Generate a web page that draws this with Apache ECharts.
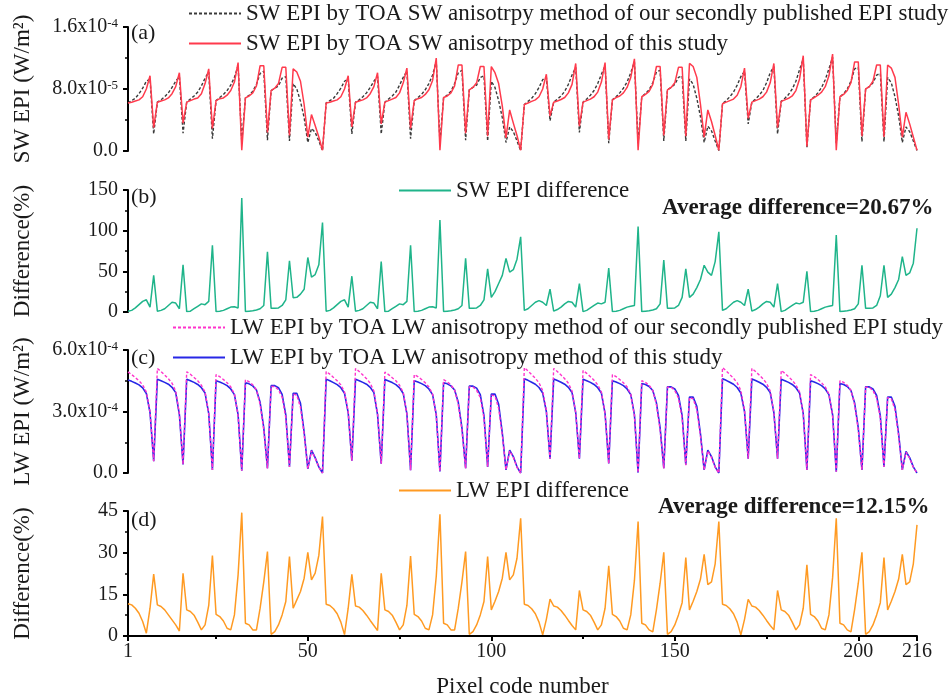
<!DOCTYPE html>
<html>
<head>
<meta charset="utf-8">
<script src="https://cdn.jsdelivr.net/npm/echarts@6/dist/echarts.min.js"></script>
<style>
  html, body { margin: 0; padding: 0; background: #fff; }
  #chart { width: 949px; height: 699px; }
</style>
</head>
<body>
<div id="chart"></div>
<script>
// Pixel code numbers along the shared x axis
const pixelCodes = Array.from({ length: 216 }, (_, i) => i + 1);
const xMajorTicks = [1, 50, 100, 150, 200, 216];
const xMinorTicks = [25, 75, 125, 175];

// SW EPI, units of 1e-5 W/m2 (previous EPI study)
const swPrev = [
  6.2, 6.5, 6.8, 7.4, 8.1, 9.0, 9.3, 2.2,  6.3, 6.6, 7.0, 7.5, 8.2, 9.0, 9.6, 2.3,  6.3, 6.7, 7.1, 7.6, 8.4, 9.4, 10.2, 1.6,  6.5, 6.9, 7.3, 7.8, 8.5, 9.5, 11.0, 1.2,  6.85, 7.2, 7.7, 8.6, 10.0, 10.3, 1.4,  7.8, 8.1, 8.4, 9.4, 9.6, 1.3,  8.7, 8.0, 6.4, 4.3, 1.1,  2.9, 2.4, 1.3, 0.05,
  6.2, 6.5, 6.8, 7.4, 8.1, 9.0, 9.3, 2.2,  6.3, 6.6, 7.0, 7.5, 8.2, 9.0, 9.6, 2.2,  6.3, 6.7, 7.1, 7.6, 8.5, 9.5, 10.3, 1.6,  6.5, 6.9, 7.3, 7.9, 8.7, 9.8, 11.6, 1.1,  6.9, 7.2, 7.7, 8.7, 10.1, 10.4, 1.4,  7.9, 8.2, 8.5, 9.5, 9.7, 1.3,  9.0, 8.2, 6.5, 4.3, 1.1,  3.1, 2.5, 1.3, 0.05,
  6.0, 6.4, 6.8, 7.4, 8.2, 9.2, 9.5, 3.9,  6.3, 6.7, 7.1, 7.7, 8.6, 9.8, 10.8, 2.4,  6.3, 6.7, 7.2, 7.8, 8.7, 9.9, 11.0, 1.0,  6.6, 7.0, 7.5, 8.1, 8.9, 10.1, 11.5, 1.0,  7.0, 7.4, 7.9, 8.8, 10.2, 10.4, 1.3,  7.9, 8.2, 8.6, 9.5, 9.7, 1.3,  9.3, 8.6, 6.8, 4.4, 1.1,  3.2, 2.6, 1.3, 0.05,
  6.1, 6.5, 7.0, 7.6, 8.5, 9.6, 10.3, 3.5,  6.3, 6.7, 7.2, 7.8, 8.8, 10.1, 10.9, 2.2,  6.4, 6.8, 7.3, 8.0, 9.0, 10.5, 11.9, 0.4,  6.6, 7.0, 7.5, 8.2, 9.2, 10.6, 12.1, 1.0,  7.0, 7.4, 8.0, 9.0, 10.6, 10.8, 1.2,  8.0, 8.3, 8.8, 9.8, 10.0, 1.2,  9.5, 8.8, 7.0, 4.5, 1.1,  3.1, 2.5, 1.3, 0.05
];

// SW EPI, units of 1e-5 W/m2 (this study)
const swThis = [
  6.2, 6.3, 6.45, 6.6, 7.0, 8.0, 9.7, 3.0,  6.3, 6.45, 6.6, 6.85, 7.4, 8.3, 10.1, 3.6,  6.3, 6.5, 6.7, 6.85, 7.4, 8.7, 10.6, 2.9,  6.5, 6.75, 6.85, 7.2, 7.8, 8.9, 11.4, 0.1,  6.85, 7.1, 7.5, 8.4, 11.0, 11.0, 2.4,  7.8, 8.1, 8.7, 10.8, 10.8, 2.0,  10.6, 10.2, 9.0, 6.0, 1.8,  4.7, 3.3, 1.8, 0.1,
  6.2, 6.3, 6.45, 6.6, 7.0, 8.0, 9.7, 3.1,  6.3, 6.45, 6.6, 6.85, 7.4, 8.3, 10.1, 3.5,  6.3, 6.5, 6.7, 6.9, 7.5, 8.8, 10.7, 2.9,  6.5, 6.75, 6.9, 7.3, 7.9, 9.1, 12.0, 0.1,  6.9, 7.1, 7.5, 8.4, 11.1, 11.1, 2.3,  7.9, 8.2, 8.8, 10.9, 10.9, 1.9,  10.9, 10.1, 8.7, 5.8, 1.7,  5.3, 3.6, 2.0, 0.1,
  6.0, 6.2, 6.4, 6.6, 7.0, 8.0, 9.9, 4.5,  6.3, 6.45, 6.65, 6.9, 7.5, 8.6, 11.3, 3.2,  6.3, 6.5, 6.7, 7.0, 7.6, 8.9, 11.4, 1.5,  6.6, 6.9, 7.1, 7.5, 8.2, 9.5, 11.9, 0.1,  7.0, 7.3, 7.7, 8.6, 10.9, 10.9, 2.0,  7.9, 8.2, 8.8, 10.8, 10.8, 1.9,  11.3, 10.9, 9.5, 6.0, 1.8,  5.3, 3.8, 2.0, 0.1,
  6.1, 6.3, 6.5, 6.7, 7.2, 8.3, 10.7, 4.2,  6.3, 6.5, 6.7, 7.0, 7.6, 8.8, 11.3, 3.0,  6.4, 6.6, 6.8, 7.1, 7.8, 9.3, 12.3, 0.6,  6.6, 6.9, 7.2, 7.6, 8.3, 9.7, 12.5, 0.1,  7.0, 7.3, 7.8, 8.8, 11.5, 11.5, 1.9,  8.0, 8.3, 9.0, 11.1, 11.1, 1.8,  11.1, 10.7, 9.5, 6.0, 1.8,  5.0, 3.5, 1.8, 0.1
];

// SW EPI difference, %
const swDiff = [
  1, 2, 5, 9, 13, 15, 6, 45,  1, 2, 4, 8, 12, 11, 4, 58,  0.5, 1, 4, 7, 10, 9, 13, 82,  0.5, 1, 2, 4, 6, 6.5, 5, 140,  0.5, 1, 1.5, 2.5, 4, 8, 74,  4.5, 4.5, 5, 8, 15, 63,  17.5, 18, 22, 28, 67,  43, 46, 58, 110,
  1, 2, 5, 9, 13, 15, 6, 44,  1, 2, 4, 8, 12, 11, 4, 62,  0.5, 1, 4, 7, 10, 9, 13, 82,  0.5, 1, 2, 4, 6, 6.5, 5, 113,  0.5, 1, 1.5, 2.5, 4, 8, 66,  4.5, 4.5, 5, 8, 15, 53,  18, 25, 35, 45, 66,  49, 52, 65, 92.5,
  2, 4, 8, 12, 14, 12, 8, 28,  1, 3, 6, 10, 13, 12, 6, 35,  0.5, 2, 5, 8, 11, 10, 12, 54,  0.5, 1, 2, 4, 6, 7, 8, 105,  0.5, 1, 1.5, 2.5, 4, 10, 64,  4.5, 4.5, 5, 8, 18, 53,  18, 22, 30, 40, 57.5,  49, 45, 62, 98.6,
  2, 4, 8, 12, 14, 12, 8, 28,  1, 3, 6, 10, 13, 12, 6, 35,  0.5, 2, 5, 8, 11, 10, 12, 50,  0.5, 1, 2, 4, 6, 7, 8, 94.5,  0.5, 1, 1.5, 2.5, 4, 10, 57.5,  4.5, 4.5, 5, 8, 20, 57.5,  18, 22, 30, 40, 68,  45, 48, 60, 103
];

// LW EPI, units of 1e-4 W/m2 (previous EPI study)
const lwPrev = [
  4.93, 4.8, 4.65, 4.5, 4.3, 3.95, 3.0, 0.58,  5.1, 4.95, 4.78, 4.6, 4.38, 4.0, 2.9, 0.42,  4.94, 4.82, 4.66, 4.5, 4.28, 3.95, 2.9, 0.15,  4.8, 4.7, 4.56, 4.4, 4.2, 3.85, 2.8, 0.11,  4.55, 4.45, 4.3, 4.05, 3.35, 2.1, 0.22,  4.22, 4.22, 4.05, 3.7, 2.7, 0.3,  3.85, 3.8, 3.2, 1.9, 0.2,  1.08, 0.72, 0.28, 0.0,
  4.95, 4.82, 4.66, 4.5, 4.3, 3.95, 3.0, 0.6,  5.1, 4.95, 4.78, 4.6, 4.38, 4.0, 2.9, 0.45,  4.92, 4.8, 4.65, 4.5, 4.28, 3.93, 2.88, 0.14,  4.8, 4.7, 4.56, 4.4, 4.2, 3.85, 2.8, 0.08,  4.55, 4.45, 4.3, 4.05, 3.35, 2.1, 0.22,  4.2, 4.2, 4.03, 3.68, 2.68, 0.3,  3.8, 3.76, 3.15, 1.85, 0.15,  1.08, 0.76, 0.28, 0.0,
  5.14, 4.98, 4.8, 4.62, 4.4, 4.02, 3.05, 0.7,  5.1, 4.95, 4.78, 4.6, 4.38, 4.0, 2.95, 0.7,  5.0, 4.86, 4.7, 4.52, 4.3, 3.95, 2.9, 0.45,  4.8, 4.7, 4.56, 4.4, 4.2, 3.85, 2.8, 0.02,  4.5, 4.42, 4.28, 4.03, 3.33, 2.1, 0.22,  4.18, 4.18, 4.02, 3.66, 2.68, 0.38,  3.68, 3.62, 3.1, 1.8, 0.15,  1.08, 0.76, 0.28, 0.0,
  5.14, 4.98, 4.8, 4.62, 4.4, 4.02, 3.05, 0.7,  5.1, 4.95, 4.78, 4.6, 4.38, 4.0, 2.95, 0.7,  5.0, 4.86, 4.7, 4.52, 4.3, 3.95, 2.9, 0.15,  4.8, 4.7, 4.56, 4.4, 4.2, 3.85, 2.8, 0.06,  4.5, 4.42, 4.28, 4.03, 3.33, 2.1, 0.15,  4.18, 4.18, 4.02, 3.66, 2.68, 0.3,  3.68, 3.62, 3.1, 1.8, 0.15,  1.02, 0.72, 0.28, 0.0
];

// LW EPI, units of 1e-4 W/m2 (this study)
const lwThis = [
  4.54, 4.47, 4.39, 4.3, 4.15, 3.88, 2.95, 0.58,  4.57, 4.5, 4.42, 4.33, 4.18, 3.92, 2.85, 0.42,  4.57, 4.5, 4.42, 4.32, 4.16, 3.9, 2.9, 0.15,  4.5, 4.44, 4.36, 4.26, 4.1, 3.82, 2.85, 0.11,  4.4, 4.35, 4.25, 4.05, 3.45, 2.2, 0.23,  4.26, 4.26, 4.16, 3.84, 2.83, 0.31,  3.89, 3.89, 3.4, 2.0, 0.2,  1.12, 0.75, 0.3, 0.0,
  4.58, 4.5, 4.41, 4.31, 4.16, 3.89, 2.95, 0.6,  4.57, 4.5, 4.42, 4.33, 4.18, 3.92, 2.85, 0.45,  4.56, 4.49, 4.41, 4.31, 4.15, 3.88, 2.88, 0.14,  4.5, 4.44, 4.36, 4.26, 4.1, 3.82, 2.85, 0.08,  4.4, 4.35, 4.25, 4.05, 3.45, 2.2, 0.23,  4.24, 4.24, 4.14, 3.82, 2.8, 0.3,  3.85, 3.85, 3.35, 1.95, 0.15,  1.12, 0.8, 0.3, 0.0,
  4.6, 4.52, 4.43, 4.33, 4.17, 3.9, 3.0, 0.7,  4.59, 4.51, 4.43, 4.33, 4.18, 3.92, 2.95, 0.7,  4.57, 4.5, 4.42, 4.32, 4.16, 3.9, 2.9, 0.47,  4.5, 4.44, 4.36, 4.26, 4.1, 3.82, 2.85, 0.02,  4.37, 4.32, 4.22, 4.02, 3.42, 2.2, 0.23,  4.2, 4.2, 4.1, 3.78, 2.8, 0.4,  3.7, 3.7, 3.25, 1.9, 0.15,  1.12, 0.8, 0.3, 0.0,
  4.6, 4.52, 4.43, 4.33, 4.17, 3.9, 3.0, 0.7,  4.59, 4.51, 4.43, 4.33, 4.18, 3.92, 2.95, 0.7,  4.57, 4.5, 4.42, 4.32, 4.16, 3.9, 2.9, 0.15,  4.5, 4.44, 4.36, 4.26, 4.1, 3.82, 2.85, 0.06,  4.37, 4.32, 4.22, 4.02, 3.42, 2.2, 0.15,  4.2, 4.2, 4.1, 3.78, 2.8, 0.31,  3.7, 3.7, 3.25, 1.9, 0.15,  1.05, 0.75, 0.3, 0.0
];

// LW EPI difference, %
const lwDiff = [
  11.6, 11.2, 10.0, 8.2, 5.2, 1.0, 10.0, 22.3,  11.2, 10.6, 9.4, 7.6, 5.8, 4.0, 1.8, 22.6,  9.4, 8.8, 7.5, 5.0, 2.2, 4.0, 11.0, 29.0,  7.8, 7.0, 5.4, 2.8, 2.2, 7.6, 22.0, 44.4,  4.6, 4.0, 2.2, 2.2, 10.0, 19.5, 30.4,  0.6, 1.6, 4.0, 7.6, 12.4, 28.6,  10.0, 13.0, 16.0, 20.8, 30.1,  20.2, 22.6, 29.0, 43.0,
  11.4, 11.0, 9.8, 8.0, 5.0, 0.5, 10.0, 22.2,  10.8, 10.4, 9.2, 7.5, 5.6, 3.8, 2.0, 22.6,  9.4, 8.8, 7.5, 5.0, 2.2, 4.0, 11.0, 28.8,  7.8, 7.0, 5.4, 2.8, 2.2, 7.6, 21.5, 43.8,  4.6, 4.0, 2.2, 2.2, 10.0, 19.5, 30.4,  0.6, 1.6, 4.0, 7.6, 12.4, 28.6,  9.4, 12.5, 16.0, 20.8, 30.1,  20.2, 22.0, 28.0, 42.4,
  11.4, 11.0, 9.8, 8.0, 5.0, 0.4, 6.0, 13.3,  10.8, 10.4, 9.2, 7.5, 5.6, 3.8, 2.2, 16.4,  9.4, 8.8, 7.5, 5.0, 2.2, 4.0, 10.0, 25.3,  7.8, 7.0, 5.4, 2.8, 2.2, 7.6, 20.0, 41.2,  4.6, 4.0, 2.2, 1.5, 9.5, 19.0, 30.1,  0.6, 1.6, 4.0, 7.6, 12.0, 28.2,  9.4, 12.5, 16.0, 20.5, 29.4,  18.5, 19.5, 26.0, 41.2,
  11.4, 11.0, 9.8, 8.0, 5.0, 0.4, 6.0, 13.2,  10.8, 10.4, 9.2, 7.5, 5.6, 3.8, 2.2, 16.4,  9.4, 8.8, 7.5, 5.0, 2.2, 4.0, 10.0, 25.6,  7.8, 7.0, 5.4, 2.8, 2.2, 7.6, 21.0, 42.4,  4.6, 4.0, 2.2, 1.5, 9.5, 19.0, 30.1,  0.6, 1.6, 4.0, 7.6, 12.0, 28.2,  9.4, 12.5, 16.0, 20.5, 29.4,  18.5, 19.5, 26.0, 40.0
];

const SERIF = 'Liberation Serif, Times New Roman, serif';
const INK = '#1a1a1a';

const pairs = (vals) => pixelCodes.map((x, i) => [x, vals[i]]);

const panels = [
  { top: 27, height: 124 },
  { top: 190, height: 122 },
  { top: 350, height: 123 },
  { top: 511, height: 125 }
];
const gridLeft = 128, gridWidth = 789;

const grids = panels.map(p => ({ left: gridLeft, width: gridWidth, top: p.top, height: p.height }));
// overlay grid carrying the short ticks between labelled x positions
grids.push({ left: gridLeft, width: gridWidth, top: panels[3].top, height: panels[3].height });

const axisLineStyle = { color: '#000', width: 2 };

const xAxes = panels.map((p, i) => ({
  gridIndex: i,
  type: 'value',
  min: 1,
  max: 216,
  splitLine: { show: false },
  axisLine: { show: i === 3, onZero: false, lineStyle: axisLineStyle },
  axisTick: { show: i === 3, customValues: xMajorTicks, length: 5, lineStyle: axisLineStyle },
  axisLabel: {
    show: i === 3, customValues: xMajorTicks, margin: 6,
    fontFamily: SERIF, fontSize: 20, color: INK
  },
  name: i === 3 ? 'Pixel code number' : '',
  nameLocation: 'middle',
  nameGap: 39,
  nameTextStyle: { fontFamily: SERIF, fontSize: 23, color: INK }
}));
xAxes.push({
  gridIndex: 4, type: 'value', min: 1, max: 216,
  splitLine: { show: false },
  axisLine: { show: false },
  axisLabel: { show: false },
  axisTick: { show: true, customValues: xMinorTicks, length: 3, lineStyle: axisLineStyle }
});

const supRich = {
  sup: { fontFamily: SERIF, fontSize: 13, color: INK, verticalAlign: 'top', padding: [0, 0, 6, 0] },
  base: { fontFamily: SERIF, fontSize: 20, color: INK }
};

function yAxisBase(i, min, max, interval, name, fmt) {
  return {
    gridIndex: i,
    type: 'value',
    min, max, interval,
    splitLine: { show: false },
    axisLine: { show: true, lineStyle: axisLineStyle },
    axisTick: { show: true, length: 5, lineStyle: axisLineStyle },
    minorTick: { show: true, splitNumber: 2, length: 3, lineStyle: { color: '#000', width: 1.5 } },
    minorSplitLine: { show: false },
    axisLabel: {
      margin: 10, fontFamily: SERIF, fontSize: 20, color: INK,
      formatter: fmt, rich: supRich
    },
    name,
    nameLocation: 'middle',
    nameGap: 94,
    nameTextStyle: { fontFamily: SERIF, fontSize: 23, color: INK }
  };
}

const yAxes = [
  yAxisBase(0, 0, 16, 8, 'SW EPI (W/m²)', v => v === 0 ? '0.0' : (v === 8 ? '{base|8.0x10}{sup|-5}' : '{base|1.6x10}{sup|-4}')),
  yAxisBase(1, 0, 150, 50, 'Difference(%)', v => String(v)),
  yAxisBase(2, 0, 6, 3, 'LW EPI (W/m²)', v => v === 0 ? '0.0' : (v === 3 ? '{base|3.0x10}{sup|-4}' : '{base|6.0x10}{sup|-4}')),
  yAxisBase(3, 0, 45, 15, 'Difference(%)', v => String(v)),
  { gridIndex: 4, type: 'value', min: 0, max: 1, show: false }
];

const LABEL_SW_PREV = 'SW EPI by TOA SW anisotrpy method of our secondly published EPI study';
const LABEL_SW_THIS = 'SW EPI by TOA SW anisotrpy method of this study';
const LABEL_SW_DIFF = 'SW EPI difference';
const LABEL_LW_PREV = 'LW EPI by TOA LW anisotropy method of our secondly published EPI study';
const LABEL_LW_THIS = 'LW EPI by TOA LW anisotropy method of this study';
const LABEL_LW_DIFF = 'LW EPI difference';

const lineSeries = (name, vals, idx, color, width, dashed, z) => ({
  name, type: 'line', xAxisIndex: idx, yAxisIndex: idx,
  data: pairs(vals), symbol: 'none', silent: true, animation: false, z,
  lineStyle: { color, width, type: dashed ? [3, 2] : 'solid' },
  itemStyle: { color }
});

const series = [
  lineSeries(LABEL_SW_PREV, swPrev, 0, '#3a3a3a', 1.4, true, 2),
  lineSeries(LABEL_SW_THIS, swThis, 0, '#ff3a4c', 1.5, false, 3),
  lineSeries(LABEL_SW_DIFF, swDiff, 1, '#1fb48a', 1.5, false, 2),
  lineSeries(LABEL_LW_THIS, lwThis, 2, '#2727e6', 1.6, false, 2),
  lineSeries(LABEL_LW_PREV, lwPrev, 2, '#ff33cc', 1.4, true, 3),
  lineSeries(LABEL_LW_DIFF, lwDiff, 3, '#ff9a22', 1.5, false, 2)
];

const legendText = { fontFamily: SERIF, fontSize: 23, color: INK };
const legendBase = {
  orient: 'vertical', itemWidth: 52, itemHeight: 14, itemGap: 7,
  textStyle: legendText, selectedMode: false, padding: 0,
  itemStyle: { opacity: 0 }
};

const legends = [
  Object.assign({}, legendBase, { left: 188, top: 2, data: [LABEL_SW_PREV, LABEL_SW_THIS] }),
  Object.assign({}, legendBase, { left: 398, top: 179, data: [LABEL_SW_DIFF] }),
  Object.assign({}, legendBase, { left: 172, top: 316, data: [LABEL_LW_PREV, LABEL_LW_THIS] }),
  Object.assign({}, legendBase, { left: 398, top: 479, data: [LABEL_LW_DIFF] })
];

const textEl = (x, y, text, size, bold) => ({
  type: 'text', x, y,
  style: {
    text, fontFamily: SERIF, fontSize: size, fontWeight: bold ? 'bold' : 'normal',
    fill: INK, textVerticalAlign: 'middle', verticalAlign: 'middle'
  }
});

const graphics = [
  textEl(131, 33, '(a)', 22),
  textEl(131, 197, '(b)', 22),
  textEl(131, 358, '(c)', 22),
  textEl(131, 520, '(d)', 22),
  textEl(662, 208, 'Average difference=20.67%', 23, true),
  textEl(658, 507, 'Average difference=12.15%', 23, true)
];

const chart = echarts.init(document.getElementById('chart'), null, { renderer: 'canvas' });
chart.setOption({
  backgroundColor: '#ffffff',
  animation: false,
  grid: grids,
  xAxis: xAxes,
  yAxis: yAxes,
  legend: legends,
  series,
  graphic: graphics
});
</script>
</body>
</html>
